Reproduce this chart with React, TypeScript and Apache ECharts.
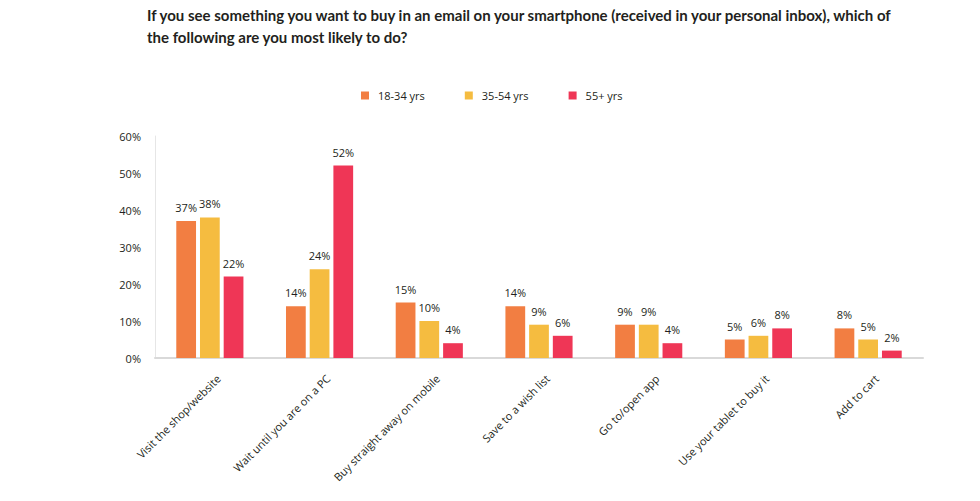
import React, { useEffect, useRef } from "react";
import * as echarts from "echarts";

const categories = [
  "Visit the shop/website",
  "Wait until you are on a PC",
  "Buy straight away on mobile",
  "Save to a wish list",
  "Go to/open app",
  "Use your tablet to buy it",
  "Add to cart",
];
const age18to34 = [37, 14, 15, 14, 9, 5, 8];
const age35to54 = [38, 24, 10, 9, 9, 6, 5];
const age55plus = [22, 52, 4, 6, 4, 8, 2];
const seriesNames = ["18-34 yrs", "35-54 yrs", "55+ yrs"];
const seriesColors = ["#F27E42", "#F5BC40", "#EF3656"];

const FONT = "'Open Sans', 'Noto Sans', sans-serif";
const TITLE_FONT = "Lato, 'Open Sans', sans-serif";

export default function App() {
  const ref = useRef<HTMLDivElement>(null);

  useEffect(() => {
    if (!ref.current) return;
    const chart = echarts.init(ref.current, undefined, { renderer: "svg" });
    const values = [age18to34, age35to54, age55plus];
    chart.setOption({
      animation: false,
      backgroundColor: "#ffffff",
      title: {
        text:
          "If you see something you want to buy in an email on your smartphone (received in your personal inbox), which of\nthe following are you most likely to do?",
        left: 142,
        top: -1,
        textStyle: {
          fontFamily: TITLE_FONT,
          fontSize: 15,
          fontWeight: "bold",
          color: "#231f20",
          lineHeight: 22,
        },
      },
      legend: {
        top: 85,
        left: 356,
        itemWidth: 8,
        itemHeight: 8,
        itemGap: 40,
        icon: "rect",
        textStyle: { fontFamily: FONT, fontSize: 11, color: "#231f20", padding: [0, 0, 0, 4] },
        data: seriesNames,
      },
      grid: { left: 155, right: 57, top: 136, bottom: 143 },
      xAxis: {
        type: "category",
        data: categories,
        axisLine: { lineStyle: { color: "#d9d9d9", width: 2 } },
        axisTick: { show: false },
        axisLabel: {
          interval: 0,
          rotate: 45,
          margin: 10,
          verticalAlign: "top",
          lineHeight: 24,
          fontFamily: FONT,
          fontSize: 11,
          color: "#231f20",
        },
      },
      yAxis: {
        type: "value",
        min: 0,
        max: 60,
        interval: 10,
        axisLine: { show: true, lineStyle: { color: "#e6e6e6", width: 1 } },
        axisTick: { show: false },
        splitLine: { show: false },
        axisLabel: {
          formatter: "{value}%",
          margin: 14,
          fontFamily: FONT,
          fontSize: 11,
          color: "#231f20",
        },
      },
      series: seriesNames.map((name, i) => ({
        name,
        type: "bar",
        data: values[i],
        barWidth: "18%",
        barGap: "20%",
        itemStyle: { color: seriesColors[i] },
        label: {
          show: true,
          position: "top",
          distance: 8,
          formatter: "{c}%",
          fontFamily: FONT,
          fontSize: 11,
          color: "#231f20",
        },
      })),
    });
    return () => chart.dispose();
  }, []);

  return (
    <div
      ref={ref}
      style={{ position: "fixed", left: 0, top: 0, width: 980, height: 501 }}
    />
  );
}
